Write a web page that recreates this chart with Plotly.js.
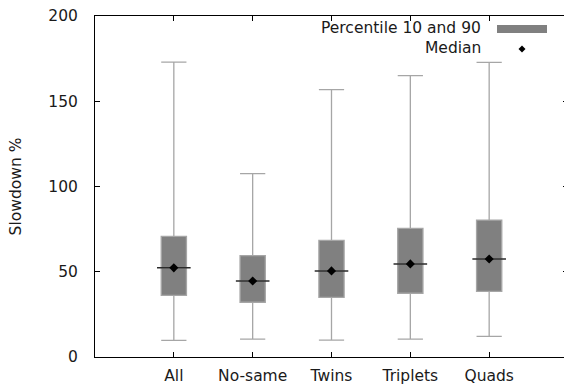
<!DOCTYPE html>
<html>
<head>
<meta charset="utf-8">
<script src="https://cdn.plot.ly/plotly-3.0.1.min.js"></script>
<style>
html,body{margin:0;padding:0;overflow:hidden;background:#fff;}
#chart{width:570px;height:385px;}
</style>
</head>
<body>
<div id="chart"></div>
<script>
// Data
const categories = ["All", "No-same", "Twins", "Triplets", "Quads"];
const p10 = [9.8, 10.5, 9.9, 10.5, 12.1];
const q1 = [36.2, 32.1, 35.0, 37.4, 38.5];
const median = [52.3, 44.6, 50.5, 54.6, 57.5];
const q3 = [70.8, 59.5, 68.4, 75.4, 80.3];
const p90 = [173.0, 107.5, 156.8, 165.0, 172.8];
const yTicks = [0, 50, 100, 150, 200];

const xIdx = categories.map((c, i) => i);

const boxTrace = {
  type: 'box',
  x: xIdx,
  q1: q1,
  median: median,
  q3: q3,
  lowerfence: p10,
  upperfence: p90,
  width: 0.32,
  whiskerwidth: 1,
  fillcolor: '#808080',
  line: {color: '#a6a6a6', width: 1.3},
  boxpoints: false,
  hoverinfo: 'skip',
  showlegend: false
};

const medianLine = {
  type: 'scatter',
  mode: 'markers',
  x: xIdx,
  y: median,
  marker: {symbol: 'line-ew-open', size: 24, color: '#2a2a2a', line: {color: '#2a2a2a', width: 1.5}},
  showlegend: false,
  hoverinfo: 'skip'
};

const medianDot = {
  type: 'scatter',
  mode: 'markers',
  x: xIdx,
  y: median,
  marker: {symbol: 'diamond', size: 7, color: '#000'},
  showlegend: false,
  hoverinfo: 'skip'
};

const font = {family: 'DejaVu Sans, sans-serif', size: 15.5, color: '#1a1a1a'};

const layout = {
  width: 570,
  height: 385,
  margin: {l: 95, r: 2, t: 16, b: 28},
  paper_bgcolor: '#fff',
  plot_bgcolor: '#fff',
  font: font,
  showlegend: false,
  xaxis: {
    range: [-1, 5],
    tickmode: 'array',
    tickvals: xIdx,
    ticktext: categories,
    ticks: 'inside',
    ticklen: 5,
    tickcolor: '#000',
    showline: true,
    linecolor: '#000',
    linewidth: 1,
    mirror: 'ticks',
    showgrid: false,
    zeroline: false,
    tickfont: font,
    ticklabelstandoff: 4
  },
  yaxis: {
    range: [0, 200],
    tickmode: 'array',
    tickvals: yTicks,
    ticks: 'inside',
    ticklen: 5,
    tickcolor: '#000',
    showline: true,
    linecolor: '#000',
    linewidth: 1,
    mirror: 'ticks',
    showgrid: false,
    zeroline: false,
    tickfont: font,
    ticklabelstandoff: 13,
    title: {text: 'Slowdown %', font: font, standoff: 22}
  },
  annotations: [
    {xref: 'paper', yref: 'paper', x: (483 - 95) / 473, y: (357 - 28) / 341, xanchor: 'right', yanchor: 'middle',
     text: 'Percentile 10 and 90', showarrow: false, font: font},
    {xref: 'paper', yref: 'paper', x: (483 - 95) / 473, y: (357 - 48) / 341, xanchor: 'right', yanchor: 'middle',
     text: 'Median', showarrow: false, font: font}
  ],
  shapes: [
    {type: 'rect', xref: 'paper', yref: 'paper',
     x0: (497 - 95) / 473, x1: (547 - 95) / 473, y0: (357 - 33) / 341, y1: (357 - 25) / 341,
     fillcolor: '#808080', line: {width: 0}},
    {type: 'path', xref: 'paper', yref: 'paper',
     path: 'M ' + ((522 - 95) / 473) + ' ' + ((357 - 45.5) / 341) +
           ' L ' + ((525.5 - 95) / 473) + ' ' + ((357 - 49) / 341) +
           ' L ' + ((522 - 95) / 473) + ' ' + ((357 - 52.5) / 341) +
           ' L ' + ((518.5 - 95) / 473) + ' ' + ((357 - 49) / 341) + ' Z',
     fillcolor: '#000', line: {width: 0}}
  ]
};

Plotly.newPlot('chart', [boxTrace, medianLine, medianDot], layout, {staticPlot: true, displayModeBar: false});
</script>
</body>
</html>
